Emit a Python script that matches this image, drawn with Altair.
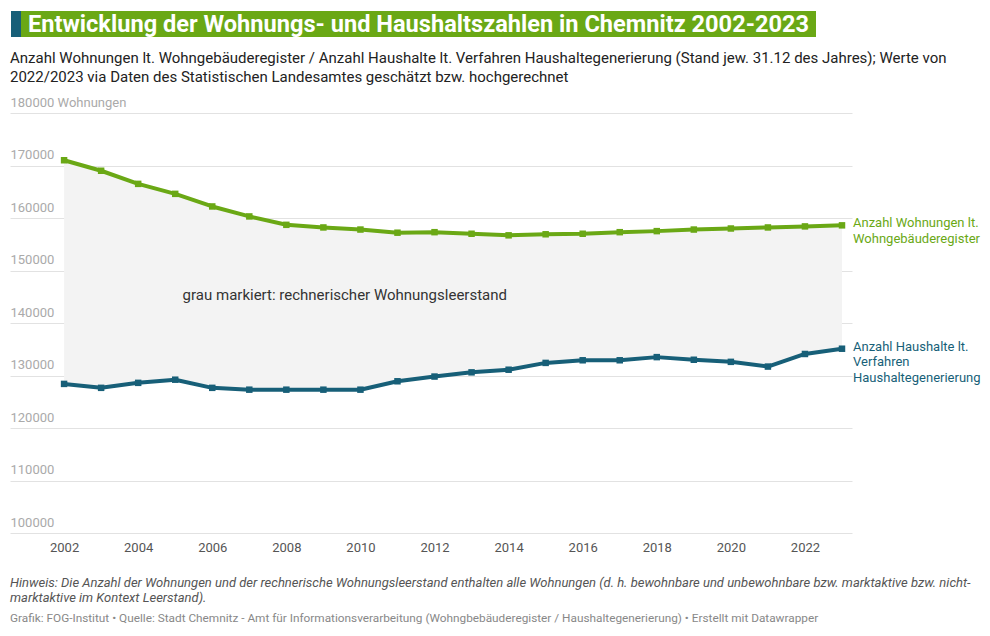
import altair as alt
import pandas as pd

# ---------------- data ----------------
years = list(range(2002, 2024))
wohnungen = [171000, 169000, 166500, 164600, 162200, 160300, 158700, 158200, 157800, 157200, 157300,
             157000, 156700, 156900, 157000, 157300, 157500, 157800, 158000, 158200, 158400, 158600]
haushalte = [128400, 127650, 128600, 129200, 127650, 127300, 127300, 127300, 127300, 128900, 129800,
             130600, 131100, 132400, 132900, 132900, 133500, 133000, 132600, 131700, 134100, 135100]

series_names = ["Anzahl Wohnungen lt.\nWohngebäuderegister",
                "Anzahl Haushalte lt.\nVerfahren\nHaushaltegenerierung"]
series_colors = ["#6aa815", "#175f78"]

x_ticks = [2002, 2004, 2006, 2008, 2010, 2012, 2014, 2016, 2018, 2020, 2022]
y_ticks = [100000, 110000, 120000, 130000, 140000, 150000, 160000, 170000, 180000]

title_text = "Entwicklung der Wohnungs- und Haushaltszahlen in Chemnitz 2002-2023"
subtitle_text = ("Anzahl Wohnungen lt. Wohngebäuderegister / Anzahl Haushalte lt. Verfahren Haushaltegenerierung "
                 "(Stand jew. 31.12 des Jahres); Werte von\n2022/2023 via Daten des Statistischen Landesamtes "
                 "geschätzt bzw. hochgerechnet")
annotation_text = "grau markiert: rechnerischer Wohnungsleerstand"
annotation_pos = [2005.2, 145300]
note_text = ("Hinweis: Die Anzahl der Wohnungen und der rechnerische Wohnungsleerstand enthalten alle Wohnungen "
             "(d. h. bewohnbare und unbewohnbare bzw. marktaktive bzw. nicht-\nmarktaktive im Kontext Leerstand).")
source_text = ("Grafik: FOG-Institut • Quelle: Stadt Chemnitz - Amt für Informationsverarbeitung "
               "(Wohngbebäuderegister / Haushaltegenerierung) • Erstellt mit Datawrapper")

FONT = "Roboto"

# ---------------- tables ----------------
wide = pd.DataFrame({"year": years, "wohnungen": wohnungen, "haushalte": haushalte})
long = pd.concat([
    pd.DataFrame({"year": years, "value": wohnungen, "series": series_names[0]}),
    pd.DataFrame({"year": years, "value": haushalte, "series": series_names[1]}),
])
last = long[long["year"] == years[-1]]

x_enc = alt.X("year:Q",
              scale=alt.Scale(domain=[2000.54, 2023.27], nice=False, zero=False),
              axis=alt.Axis(values=x_ticks, format="d", title=None, grid=False, ticks=False,
                            domain=False, labelPadding=8, labelFontSize=13, labelColor="#555555",
                            labelFont=FONT, labelFlush=False))
y_scale = alt.Scale(domain=[100000, 180000], nice=False, zero=False)
y_axis = alt.Axis(values=y_ticks, format="d", title=None, ticks=False, domain=False,
                  grid=True, gridColor="#e2e2e2", gridWidth=1,
                  labelAlign="left", labelBaseline="bottom", labelOffset=-4, labelPadding=0,
                  labelFontSize=13, labelColor="#aaaaaa", labelFont=FONT,
                  labelExpr="datum.value == 180000 ? datum.label + ' Wohnungen' : datum.label")
color_scale = alt.Scale(domain=series_names, range=series_colors)

base = alt.Chart(long)

area = alt.Chart(wide).mark_area(color="#f3f3f3").encode(
    x=x_enc,
    y=alt.Y("haushalte:Q", scale=y_scale, axis=y_axis),
    y2="wohnungen:Q",
)

lines = base.mark_line(strokeWidth=4, strokeJoin="round").encode(
    x=x_enc,
    y=alt.Y("value:Q", scale=y_scale),
    color=alt.Color("series:N", scale=color_scale, legend=None),
)

points = base.mark_point(shape="square", filled=True, size=42, opacity=1).encode(
    x=x_enc,
    y=alt.Y("value:Q", scale=y_scale),
    color=alt.Color("series:N", scale=color_scale, legend=None),
)

end_labels = alt.Chart(last).mark_text(align="left", baseline="top", dx=11, dy=-8, fontSize=13,
                                       font=FONT, lineBreak="\n", lineHeight=15.5).encode(
    x=x_enc,
    y=alt.Y("value:Q", scale=y_scale),
    text="series:N",
    color=alt.Color("series:N", scale=color_scale, legend=None),
)

annot = alt.Chart(pd.DataFrame({"year": [annotation_pos[0]], "value": [annotation_pos[1]],
                                "t": [annotation_text]})).mark_text(
    align="left", baseline="middle", fontSize=15, font=FONT, color="#333333").encode(
    x=x_enc, y=alt.Y("value:Q", scale=y_scale), text="t:N")

one = pd.DataFrame({"t": [title_text]})

teal_bar = alt.Chart(one).mark_rect(color="#175f78").encode(
    x=alt.value(1), x2=alt.value(11), y=alt.value(-102), y2=alt.value(-76))
green_bar = alt.Chart(one).mark_rect(color="#6aa815").encode(
    x=alt.value(11), x2=alt.value(806), y=alt.value(-102), y2=alt.value(-76))
title = alt.Chart(one).mark_text(align="left", baseline="alphabetic", fontSize=23.6, fontWeight="bold",
                                 font=FONT, color="white").encode(
    x=alt.value(18), y=alt.value(-81), text="t:N")
subtitle = alt.Chart(pd.DataFrame({"t": [subtitle_text]})).mark_text(
    align="left", baseline="alphabetic", fontSize=15, font=FONT, color="#222222",
    lineBreak="\n", lineHeight=19).encode(
    x=alt.value(0), y=alt.value(-50), text="t:N")
note = alt.Chart(pd.DataFrame({"t": [note_text]})).mark_text(
    align="left", baseline="middle", fontSize=13, font=FONT, fontStyle="italic", color="#555555",
    lineBreak="\n", lineHeight=15).encode(
    x=alt.value(0), y=alt.value(470), text="t:N")
source = alt.Chart(pd.DataFrame({"t": [source_text]})).mark_text(
    align="left", baseline="middle", fontSize=11.8, font=FONT, color="#888888").encode(
    x=alt.value(0), y=alt.value(505), text="t:N")

chart = alt.layer(area, lines, points, end_labels, annot,
                  teal_bar, green_bar, title, subtitle, note, source).properties(
    width=842, height=420,
    background="white",
    padding={"left": 2, "top": 3, "right": 0, "bottom": 0},
).configure_view(strokeWidth=0, stroke="transparent")

chart.save("out.html", embed_options={"renderer": "svg", "actions": False})
